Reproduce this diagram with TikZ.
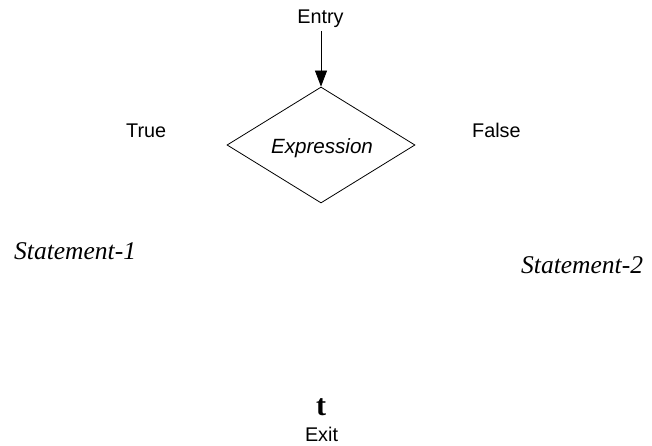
\documentclass[tikz,border=0pt]{standalone}
\usepackage{fontspec}
\setmainfont{Liberation Serif}
\setsansfont{Liberation Sans}
\usetikzlibrary{shapes.geometric,arrows.meta}
\begin{document}
\begin{tikzpicture}[x=1pt,y=-1pt,
  sanslabel/.style={font=\sffamily\fontsize{19.8}{20}\selectfont, inner sep=0pt, anchor=base},
  stmt/.style={font=\itshape\fontsize{25.5}{26}\selectfont, inner sep=0pt, anchor=base west},
  decision/.style={draw, diamond, minimum width=188pt, minimum height=116pt, inner sep=0pt, line width=0.8pt},
  flow/.style={line width=0.8pt, -{Triangle[length=16pt,width=12pt]}}]
\useasboundingbox (0,0) rectangle (652,446);
\node[sanslabel] (entry) at (320.5,24) {Entry};
\coordinate (entryend) at (321,31);
\node[decision] (dia) at (321,145) {};
\node[sanslabel, font=\sffamily\itshape\fontsize{20.6}{21}\selectfont] (expr) at (322,154) {Expression};
\draw[flow] (entryend) -- (dia.north);
\node[sanslabel, anchor=base west] (true) at (126,138) {True};
\node[sanslabel, anchor=base west] (false) at (472,138) {False};
\node[stmt] (s1) at (14,259) {Statement-1};
\node[stmt] (s2) at (521,273) {Statement-2};
\node[inner sep=0pt, anchor=base, font=\bfseries\fontsize{30}{30}\selectfont] (t) at (321,415) {t};
\node[sanslabel] (exit) at (321.5,441) {Exit};
\end{tikzpicture}
\end{document}
